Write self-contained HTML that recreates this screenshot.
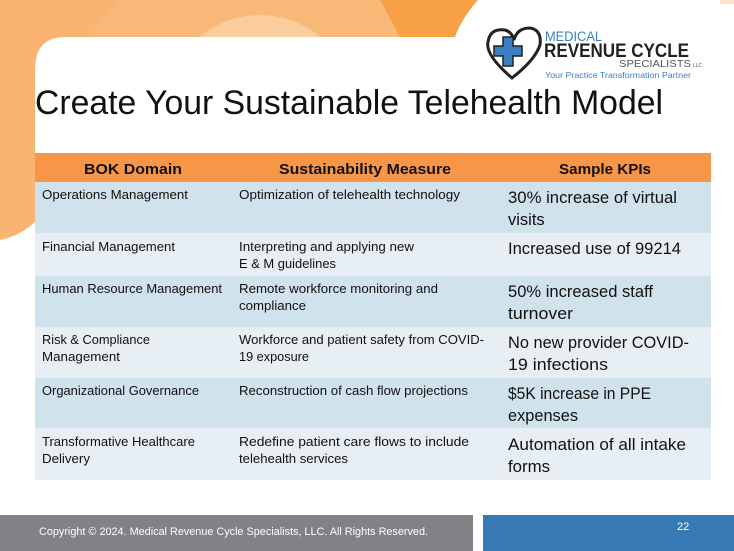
<!DOCTYPE html>
<html><head><meta charset="utf-8"><style>
html,body{margin:0;padding:0;background:#fff;}
svg{display:block;font-family:"Liberation Sans",sans-serif;}
</style></head><body>
<svg width="734" height="551" viewBox="0 0 734 551">
  <defs>
    <clipPath id="orangeClip"><path d="M0 0 H478 Q462 18 455 37 H65 Q35 37 35 70 V222 Q20 236 0 240 Z"/></clipPath>
  </defs>
  <g>
    <g clip-path="url(#orangeClip)">
      <path d="M0 0 H478 Q462 18 455 37 H65 Q35 37 35 70 V222 Q20 236 0 240 Z" fill="#f8b878"/>
      <circle cx="260" cy="110" r="95" fill="#fbcd9c"/>
      <circle cx="340" cy="120" r="80" fill="#f9c08a"/>
      <path d="M380 0 H478 Q462 18 455 37 H400 Z" fill="#f7a045"/>
      <path d="M0 0 H120 Q60 60 35 120 V222 Q20 236 0 240 Z" fill="#f9b472"/>
    </g>
    <rect x="720" y="0" width="14" height="4" fill="#fde3c8"/>
  </g>
  <g>
    <path d="M512 78 Q485 55 488 42 Q490 28 505 30 Q512 32 514 40 Q517 28 530 28 Q542 30 540 45 Q535 60 512 78 Z" fill="none" stroke="#222" stroke-width="3"/>
    <path d="M503 37 h10 v9 h9 v10 h-9 v10 h-10 v-10 h-9 v-10 h9 Z" fill="#3a7fc0" stroke="#222" stroke-width="1.5"/>
    <text x="545" y="41" font-size="13.5" fill="#3a7fc0" textLength="57" lengthAdjust="spacingAndGlyphs">MEDICAL</text>
    <text x="544" y="57" font-size="19" font-weight="bold" fill="#222" textLength="145" lengthAdjust="spacingAndGlyphs">REVENUE CYCLE</text>
    <text x="619" y="67" font-size="10.5" fill="#555" textLength="72" lengthAdjust="spacingAndGlyphs">SPECIALISTS</text>
    <text x="693" y="67" font-size="5" fill="#555">LLC</text>
    <text x="545" y="78" font-size="8.5" fill="#3a7fc0" textLength="146" lengthAdjust="spacingAndGlyphs">Your Practice Transformation Partner</text>
  </g>
  <text x="35" y="114" font-size="34" fill="#111" textLength="628" lengthAdjust="spacingAndGlyphs">Create Your Sustainable Telehealth Model</text>

  <g>
    <rect x="35" y="153" width="676" height="29" fill="#f69646"/>
    <text x="133" y="174" font-size="15" font-weight="bold" text-anchor="middle" fill="#111" textLength="98" lengthAdjust="spacingAndGlyphs">BOK Domain</text>
    <text x="365" y="174" font-size="15" font-weight="bold" text-anchor="middle" fill="#111" textLength="172" lengthAdjust="spacingAndGlyphs">Sustainability Measure</text>
    <text x="605" y="174" font-size="15" font-weight="bold" text-anchor="middle" fill="#111" textLength="92" lengthAdjust="spacingAndGlyphs">Sample KPIs</text>

    <g>
      <rect x="35" y="182" width="676" height="51" fill="#d0e2eb"/>
      <text x="42" y="199" font-size="12.5" fill="#111" textLength="146" lengthAdjust="spacingAndGlyphs">Operations Management</text>
      <text x="239" y="199" font-size="12.5" fill="#111" textLength="221" lengthAdjust="spacingAndGlyphs">Optimization of telehealth technology</text>
      <text x="508" y="203" font-size="16.5" fill="#111" textLength="169" lengthAdjust="spacingAndGlyphs">30% increase of virtual</text>
      <text x="508" y="225" font-size="16.5" fill="#111">visits</text>
    </g>
    <g>
      <rect x="35" y="233" width="676" height="43" fill="#e8eff4"/>
      <text x="42" y="251" font-size="12.5" fill="#111" textLength="133" lengthAdjust="spacingAndGlyphs">Financial Management</text>
      <text x="239" y="251" font-size="12.5" fill="#111" textLength="175" lengthAdjust="spacingAndGlyphs">Interpreting and applying new</text>
      <text x="239" y="268" font-size="12.5" fill="#111" textLength="97" lengthAdjust="spacingAndGlyphs">E &amp; M guidelines</text>
      <text x="508" y="254" font-size="16.5" fill="#111" textLength="173" lengthAdjust="spacingAndGlyphs">Increased use of 99214</text>
    </g>
    <g>
      <rect x="35" y="276" width="676" height="51" fill="#d0e2eb"/>
      <text x="42" y="293" font-size="12.5" fill="#111" textLength="180" lengthAdjust="spacingAndGlyphs">Human Resource Management</text>
      <text x="239" y="293" font-size="12.5" fill="#111" textLength="199" lengthAdjust="spacingAndGlyphs">Remote workforce monitoring and</text>
      <text x="239" y="310" font-size="12.5" fill="#111" textLength="67" lengthAdjust="spacingAndGlyphs">compliance</text>
      <text x="508" y="297" font-size="16.5" fill="#111" textLength="145" lengthAdjust="spacingAndGlyphs">50% increased staff</text>
      <text x="508" y="319" font-size="16.5" fill="#111" textLength="65" lengthAdjust="spacingAndGlyphs">turnover</text>
    </g>
    <g>
      <rect x="35" y="327" width="676" height="51" fill="#e8eff4"/>
      <text x="42" y="344" font-size="12.5" fill="#111" textLength="108" lengthAdjust="spacingAndGlyphs">Risk &amp; Compliance</text>
      <text x="42" y="361" font-size="12.5" fill="#111" textLength="78" lengthAdjust="spacingAndGlyphs">Management</text>
      <text x="239" y="344" font-size="12.5" fill="#111" textLength="245" lengthAdjust="spacingAndGlyphs">Workforce and patient safety from COVID-</text>
      <text x="239" y="361" font-size="12.5" fill="#111" textLength="70" lengthAdjust="spacingAndGlyphs">19 exposure</text>
      <text x="508" y="348" font-size="16.5" fill="#111" textLength="181" lengthAdjust="spacingAndGlyphs">No new provider COVID-</text>
      <text x="508" y="370" font-size="16.5" fill="#111" textLength="100" lengthAdjust="spacingAndGlyphs">19 infections</text>
    </g>
    <g>
      <rect x="35" y="378" width="676" height="50" fill="#d0e2eb"/>
      <text x="42" y="395" font-size="12.5" fill="#111" textLength="157" lengthAdjust="spacingAndGlyphs">Organizational Governance</text>
      <text x="239" y="395" font-size="12.5" fill="#111" textLength="229" lengthAdjust="spacingAndGlyphs">Reconstruction of cash flow projections</text>
      <text x="508" y="399" font-size="16.5" fill="#111" textLength="143" lengthAdjust="spacingAndGlyphs">$5K increase in PPE</text>
      <text x="508" y="421" font-size="16.5" fill="#111" textLength="70" lengthAdjust="spacingAndGlyphs">expenses</text>
    </g>
    <g>
      <rect x="35" y="428" width="676" height="52" fill="#e8eff4"/>
      <text x="42" y="446" font-size="12.5" fill="#111" textLength="153" lengthAdjust="spacingAndGlyphs">Transformative Healthcare</text>
      <text x="42" y="463" font-size="12.5" fill="#111" textLength="48" lengthAdjust="spacingAndGlyphs">Delivery</text>
      <text x="239" y="446" font-size="12.5" fill="#111" textLength="230" lengthAdjust="spacingAndGlyphs">Redefine patient care flows to include</text>
      <text x="239" y="463" font-size="12.5" fill="#111" textLength="109" lengthAdjust="spacingAndGlyphs">telehealth services</text>
      <text x="508" y="450" font-size="16.5" fill="#111" textLength="178" lengthAdjust="spacingAndGlyphs">Automation of all intake</text>
      <text x="508" y="472" font-size="16.5" fill="#111" textLength="42" lengthAdjust="spacingAndGlyphs">forms</text>
    </g>
  </g>

  <g>
    <rect x="0" y="515" width="473" height="36" fill="#808285"/>
    <text x="39" y="535" font-size="11" fill="#fff" textLength="389" lengthAdjust="spacingAndGlyphs">Copyright © 2024. Medical Revenue Cycle Specialists, LLC. All Rights Reserved.</text>
    <rect x="483" y="515" width="251" height="36" fill="#3679b4"/>
    <text x="677" y="530" font-size="11" fill="#fff">22</text>
  </g>
</svg>
</body></html>
